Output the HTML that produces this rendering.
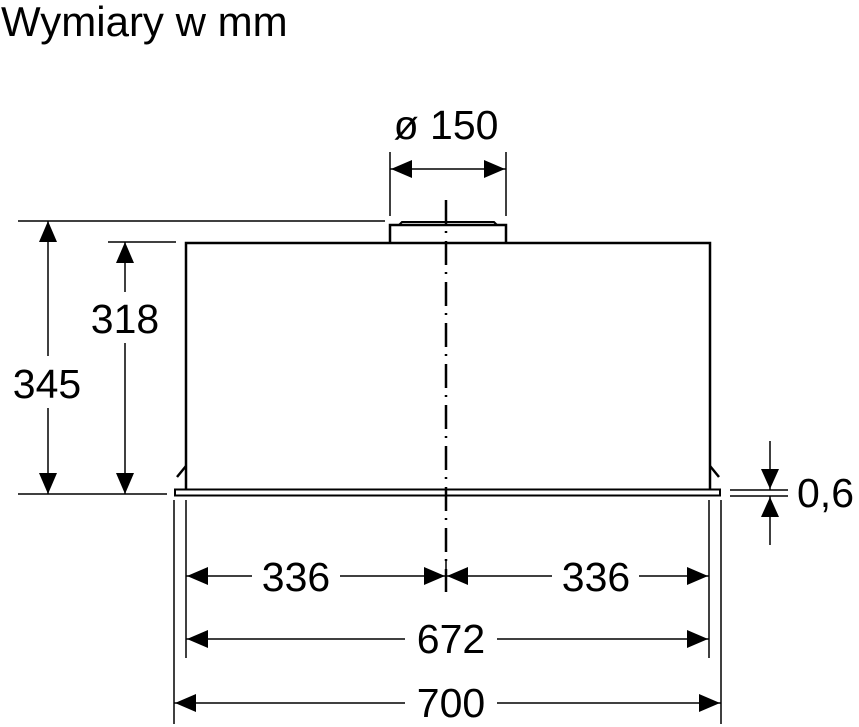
<!DOCTYPE html>
<html><head><meta charset="utf-8"><style>html,body{margin:0;padding:0;background:#fff}svg{display:block}</style></head>
<body>
<svg width="859" height="727" viewBox="0 0 859 727" xmlns="http://www.w3.org/2000/svg" font-family="Liberation Sans, Arial, sans-serif" fill="#000">
<text x="1" y="36" font-size="42">Wymiary w mm</text>
<g stroke="#000" fill="none">
<path d="M186 489 V243 H710 V489" stroke-width="2.5"/>
<rect x="175" y="489.5" width="545" height="6" stroke-width="2"/>
<path d="M186 466 L177 477 M710 466 L719 477" stroke-width="2.5"/>
<path d="M390 243 V225 H506 V243" stroke-width="2.5"/>
<path d="M399 225 L402 222 H494 L497 225" stroke-width="2"/>
<line x1="446" y1="200" x2="446" y2="592" stroke-width="2.5" stroke-dasharray="24 7 2 8"/>
<g stroke-width="1.5">
<line x1="18" y1="221" x2="385" y2="221"/>
<line x1="108" y1="242" x2="176" y2="242"/>
<line x1="18" y1="494" x2="167" y2="494"/>
<line x1="390" y1="152" x2="390" y2="216"/>
<line x1="506" y1="152" x2="506" y2="216"/>
<line x1="174" y1="500" x2="174" y2="724"/>
<line x1="186" y1="500" x2="186" y2="658"/>
<line x1="709" y1="500" x2="709" y2="658"/>
<line x1="721" y1="500" x2="721" y2="724"/>
<line x1="446" y1="560" x2="446" y2="592"/>
<line x1="730" y1="490" x2="788" y2="490"/>
<line x1="730" y1="496" x2="788" y2="496"/>
<line x1="48" y1="221" x2="48" y2="356"/>
<line x1="48" y1="408" x2="48" y2="494"/>
<line x1="125" y1="242" x2="125" y2="292"/>
<line x1="125" y1="343" x2="125" y2="494"/>
<line x1="390" y1="169" x2="506" y2="169"/>
<line x1="186" y1="576" x2="252" y2="576"/>
<line x1="340" y1="576" x2="446" y2="576"/>
<line x1="446" y1="576" x2="552" y2="576"/>
<line x1="639" y1="576" x2="709" y2="576"/>
<line x1="186" y1="639" x2="405" y2="639"/>
<line x1="497" y1="639" x2="709" y2="639"/>
<line x1="174" y1="703" x2="405" y2="703"/>
<line x1="497" y1="703" x2="721" y2="703"/>
<line x1="770" y1="441" x2="770" y2="490"/>
<line x1="770" y1="496" x2="770" y2="545"/>
</g>
</g>
<g fill="#000">
<path d="M48 221 l-9 21 h18z"/>
<path d="M48 494 l-9 -21 h18z"/>
<path d="M125 242 l-9 21 h18z"/>
<path d="M125 494 l-9 -21 h18z"/>
<path d="M391 169 l21 -9 v18z"/>
<path d="M505 169 l-21 -9 v18z"/>
<path d="M187 576 l21 -9 v18z"/>
<path d="M445 576 l-21 -9 v18z"/>
<path d="M447 576 l21 -9 v18z"/>
<path d="M708 576 l-21 -9 v18z"/>
<path d="M187 639 l21 -9 v18z"/>
<path d="M708 639 l-21 -9 v18z"/>
<path d="M175 703 l21 -9 v18z"/>
<path d="M720 703 l-21 -9 v18z"/>
<path d="M770 489 l-9 -20 h18z"/>
<path d="M770 497 l-9 20 h18z"/>
</g>
<g font-size="41">
<text x="446" y="139" text-anchor="middle">ø 150</text>
<text x="47" y="398" text-anchor="middle">345</text>
<text x="125" y="333" text-anchor="middle">318</text>
<text x="296" y="591" text-anchor="middle">336</text>
<text x="596" y="591" text-anchor="middle">336</text>
<text x="451" y="653" text-anchor="middle">672</text>
<text x="451" y="717" text-anchor="middle">700</text>
<text x="797" y="507">0,6</text>
</g>
</svg>
</body></html>
